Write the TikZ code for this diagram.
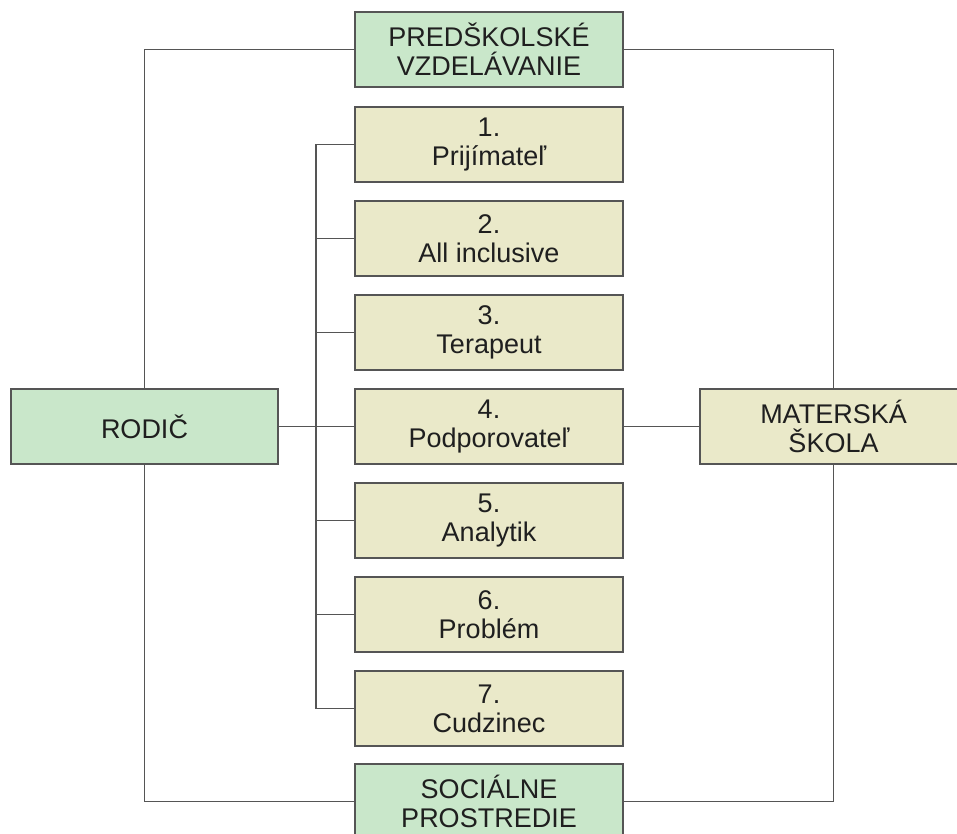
\documentclass[tikz,border=0pt]{standalone}
\usepackage{fontspec}
\setmainfont{Liberation Sans}
\definecolor{gfill}{HTML}{C9E7CA}
\definecolor{bfill}{HTML}{EAE9C9}
\definecolor{edge}{HTML}{555555}
\begin{document}
\begin{tikzpicture}[x=1pt,y=-1pt,
  box/.style={draw=edge, line width=1.5pt, minimum width=268pt, minimum height=75pt,
    inner sep=0pt, align=center, font=\fontsize{27}{29}\selectfont, text=black!88},
  gbox/.style={box, fill=gfill},
  bbox/.style={box, fill=bfill},
  conn/.style={draw=edge, line width=1.6pt}]
\useasboundingbox (0,0) rectangle (957,834);
\node[gbox] (pre) at (489,49.5) {PREDŠKOLSKÉ\\VZDELÁVANIE};
\node[bbox] (b1) at (489,144.5) {1.\\Prijímateľ};
\node[bbox] (b2) at (489,238.5) {2.\\All inclusive};
\node[bbox] (b3) at (489,332.5) {3.\\Terapeut};
\node[bbox] (b4) at (489,426.5) {4.\\Podporovateľ};
\node[bbox] (b5) at (489,520.5) {5.\\Analytik};
\node[bbox] (b6) at (489,614.5) {6.\\Problém};
\node[bbox] (b7) at (489,708.5) {7.\\Cudzinec};
\node[gbox] (soc) at (489,801.5) {SOCIÁLNE\\PROSTREDIE};
\node[gbox, minimum width=267pt] (rod) at (144.5,426.5) {RODIČ};
\node[bbox, minimum width=267pt] (mat) at (833.5,426.5) {MATERSKÁ\\ŠKOLA};
\coordinate (bus1) at (316,144.5);
\coordinate (bus7) at (316,708.5);
\coordinate (busm) at (316,426.5);
% outer frame
\draw[conn] (pre.west) -| (rod.north);
\draw[conn] (rod.south) |- (soc.west);
\draw[conn] (pre.east) -| (mat.north);
\draw[conn] (mat.south) |- (soc.east);
% bus
\draw[conn] (b1.west) -- (bus1) -- (bus7) -- (b7.west);
\foreach \i in {2,3,5,6} {\draw[conn] (b\i.west) -- (b\i.west -| busm);}
\draw[conn] (rod.east) -- (b4.west);
\draw[conn] (b4.east) -- (mat.west);
\end{tikzpicture}
\end{document}
